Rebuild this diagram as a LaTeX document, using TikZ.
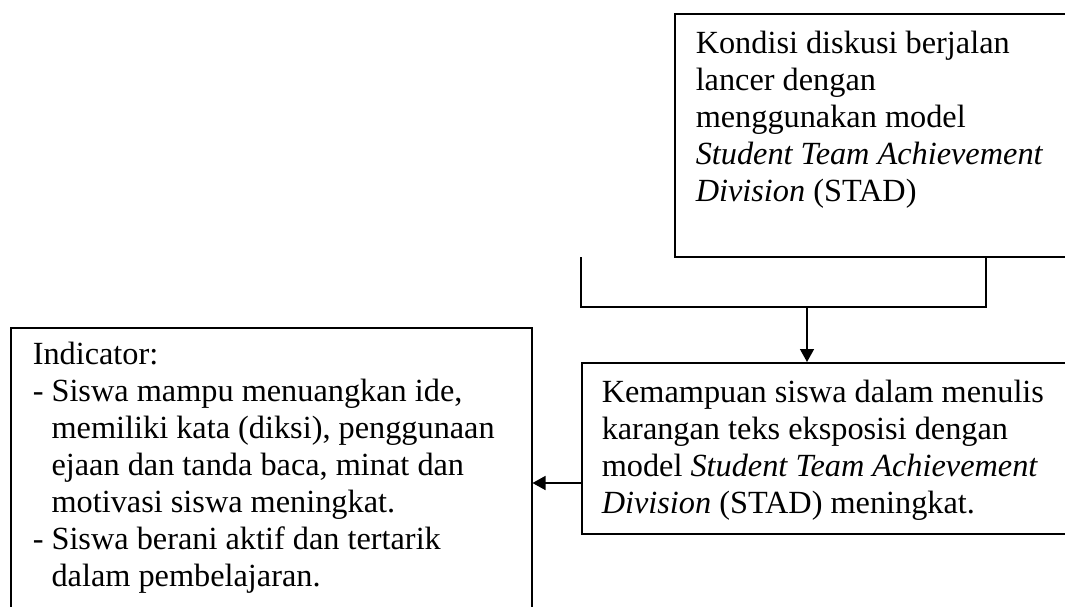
\documentclass[tikz,border=0pt]{standalone}
\usepackage{fontspec}
\setmainfont{Liberation Serif}
\usetikzlibrary{arrows.meta}
\begin{document}
\begin{tikzpicture}[x=1pt,y=-1pt,
  box/.style={draw, line width=1.5pt, inner sep=0pt, anchor=north west, font=\fontsize{32.3}{37}\selectfont},
  conn/.style={line width=1.5pt},
  arr/.style={line width=1.5pt, -{Triangle[length=13pt,width=14pt]}}]
\useasboundingbox (0,0) rectangle (1065,606);
\clip (0,0) rectangle (1065,606);
\node[box] (top) at (674,13) {\parbox[t][243pt][t]{420pt}{\leftskip=21pt\vspace*{13.8pt}\strut Kondisi diskusi berjalan\\
lancer dengan\\
menggunakan model\\
\textit{Student Team Achievement}\\
\textit{Division} (STAD)}};
\node[box] (right) at (581,362) {\parbox[t][171pt][t]{520pt}{\leftskip=20pt\vspace*{13.8pt}\strut Kemampuan siswa dalam menulis\\
karangan teks eksposisi dengan\\
model \textit{Student Team Achievement}\\
\textit{Division} (STAD) meningkat.}};
\node[box] (left) at (10,327) {\parbox[t][300pt][t]{521pt}{\leftskip=22pt\vspace*{11pt}\strut Indicator:\\
- Siswa mampu menuangkan ide,\\
\phantom{- }memiliki kata (diksi), penggunaan\\
\phantom{- }ejaan dan tanda baca, minat dan\\
\phantom{- }motivasi siswa meningkat.\\
- Siswa berani aktif dan tertarik\\
\phantom{- }dalam pembelajaran.}};
\coordinate (bl) at (581,257);
\coordinate (br) at ([xshift=312pt]top.south west);
\coordinate (j) at (807,307);
\coordinate (ay) at (0,483);
\draw[conn] (bl) |- (j) -| (br);
\draw[arr] (j) -- (j |- right.north);
\draw[arr] (right.west |- ay) -- (left.east |- ay);
\end{tikzpicture}
\end{document}
